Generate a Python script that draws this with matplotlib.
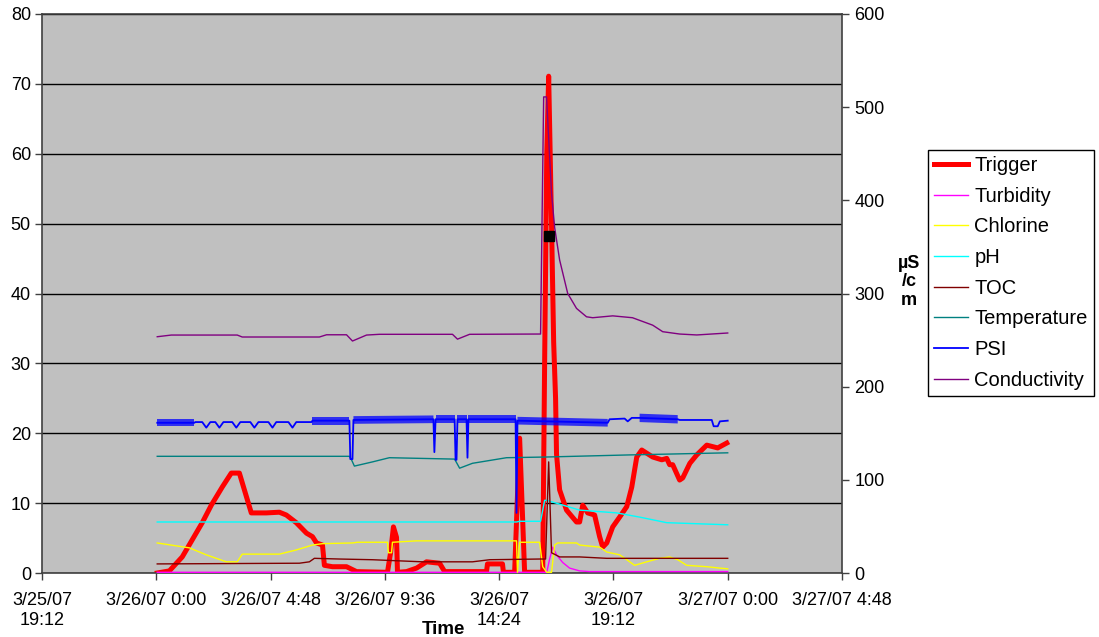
import matplotlib
matplotlib.use("Agg")
import matplotlib.pyplot as plt
import numpy as np

plt.rcParams['font.family'] = ['Liberation Sans', 'DejaVu Sans']

# ---- data (hours after 3/26/07 0:00) ----
tick_hours = [-4.8, 0, 4.8, 9.6, 14.4, 19.2, 24.0, 28.8]
tick_labels = ["3/25/07\n19:12", "3/26/07 0:00", "3/26/07 4:48", "3/26/07 9:36",
               "3/26/07\n14:24", "3/26/07\n19:12", "3/27/07 0:00", "3/27/07 4:48"]

trigger_h = [0.04, 0.55, 1.09, 1.93, 2.31, 2.77, 3.15, 3.49, 3.70, 3.99, 4.62, 5.17, 5.46, 5.88,
             6.31, 6.56, 6.73, 6.98, 7.06, 7.40, 7.99, 8.41, 9.71, 9.84, 9.96, 10.09, 10.13, 10.51,
             10.93, 11.35, 11.90, 12.11, 13.87, 13.91, 14.54, 14.58, 15.05, 15.26, 15.47, 16.23,
             16.31, 16.40, 16.48, 16.60, 16.69, 16.77, 16.81, 16.94, 17.23, 17.65, 17.78, 17.91,
             18.12, 18.41, 18.62, 18.75, 18.92, 19.17, 19.46, 19.76, 19.97, 20.18, 20.39, 20.85,
             21.23, 21.44, 21.56, 21.69, 21.98, 22.11, 22.41, 22.70, 23.12, 23.58, 23.96]
trigger_v = [0.0, 0.3, 2.3, 7.2, 9.7, 12.3, 14.3, 14.3, 11.9, 8.6, 8.6, 8.7, 8.3, 7.2,
             5.7, 5.2, 4.3, 4.0, 1.1, 0.9, 0.9, 0.2, 0.1, 2.9, 6.6, 5.1, 0.1, 0.2,
             0.7, 1.6, 1.4, 0.2, 0.2, 1.3, 1.3, 0.1, 0.1, 19.3, 0.1, 0.1,
             30.0, 60.0, 71.1, 50.0, 33.0, 25.0, 17.0, 11.9, 9.0, 7.3, 7.3, 9.7,
             8.6, 8.3, 5.2, 3.7, 4.3, 6.6, 8.0, 9.5, 12.3, 16.6, 17.6, 16.6,
             16.2, 16.4, 15.5, 15.5, 13.3, 13.6, 15.7, 16.9, 18.3, 17.9, 18.6]
marker_h = [16.48]
marker_v = [48.2]

turb_h = [0.04, 16.40, 16.52, 16.65, 16.81, 17.07, 17.36, 17.78, 18.2, 24.0]
turb_v = [0.1, 0.1, 2.0, 3.7, 2.6, 1.5, 0.7, 0.3, 0.2, 0.2]

chl_h = [0.04, 1.39, 2.10, 2.94, 3.40, 3.61, 5.17, 5.88, 6.56, 6.98, 8.24, 8.45, 9.71, 9.75,
         9.88, 9.92, 10.93, 15.13, 15.17, 15.26, 16.10, 16.23, 16.40, 16.60, 16.73, 16.86,
         17.65, 17.78, 18.62, 18.92, 19.46, 19.76, 20.09, 20.60, 21.14, 21.56, 21.90, 22.28,
         23.12, 23.67, 24.0]
chl_v = [4.3, 3.6, 2.6, 1.6, 1.6, 2.7, 2.7, 3.3, 4.0, 4.2, 4.3, 4.4, 4.4, 2.9,
         2.9, 4.4, 4.6, 4.6, 0.1, 4.4, 4.4, 0.9, 0.1, 0.1, 4.0, 4.3,
         4.3, 4.0, 3.7, 3.0, 2.6, 1.9, 1.1, 1.6, 2.1, 2.3, 1.9, 1.1,
         0.9, 0.7, 0.6]

ph_h = [0.04, 15.13, 15.26, 16.14, 16.31, 16.40, 17.78, 19.34, 20.30, 21.44, 24.0]
ph_v = [7.3, 7.3, 7.4, 7.4, 10.4, 10.4, 9.0, 8.6, 8.0, 7.2, 6.9]

toc_h = [0.04, 6.01, 6.43, 6.64, 7.69, 9.08, 11.18, 13.28, 14.0, 16.10, 16.35, 16.48, 16.60,
         16.94, 17.78, 18.92, 24.0]
toc_v = [1.3, 1.4, 1.6, 2.1, 2.0, 1.9, 1.6, 1.6, 1.9, 2.0, 2.0, 15.9, 2.9,
         2.3, 2.3, 2.1, 2.1]

temp_h = [0.04, 8.11, 8.20, 8.32, 9.08, 9.79, 12.53, 12.74, 13.28, 14.71, 16.39, 19.88, 24.0]
temp_v = [16.7, 16.7, 16.2, 15.3, 15.9, 16.5, 16.3, 15.0, 15.7, 16.5, 16.6, 16.9, 17.2]

psi_h = [0.04, 1.60, 1.64, 1.93, 2.10, 2.27, 2.48, 2.65, 2.82, 3.19, 3.36, 3.53, 3.95, 4.12,
         4.29, 4.71, 4.88, 5.04, 5.55, 5.72, 5.88, 6.52, 6.56, 8.11, 8.15, 8.24, 8.28, 11.64,
         11.68, 11.73, 12.53, 12.57, 12.61, 12.65, 13.03, 13.07, 13.11, 15.09, 15.13, 15.17,
         18.96, 19.04, 19.67, 19.80, 19.97, 20.30, 21.90, 21.98, 23.33, 23.41, 23.58, 23.67, 24.0]
psi_v = [21.5, 21.5, 21.6, 21.6, 20.8, 21.6, 21.6, 20.8, 21.6, 21.6, 20.8, 21.6, 21.6, 20.8,
         21.6, 21.6, 20.8, 21.6, 21.6, 20.8, 21.6, 21.6, 21.8, 21.8, 16.3, 16.3, 21.9, 22.0,
         17.3, 22.0, 22.0, 16.2, 16.2, 22.0, 22.0, 16.5, 22.0, 22.0, 8.6, 21.8,
         21.5, 22.0, 22.1, 21.7, 22.2, 22.2, 22.0, 21.9, 21.9, 21.0, 21.0, 21.7, 21.8]
psi_noise = [0.5, 0.5, 0, 0, 0, 0, 0, 0, 0, 0, 0, 0, 0, 0,
             0, 0, 0, 0, 0, 0, 0, 0, 0.55, 0.55, 0, 0, 0.55, 0.55,
             0, 0.55, 0.55, 0, 0, 0.55, 0.55, 0, 0.55, 0.55, 0, 0.55,
             0.55, 0, 0, 0, 0, 0.6, 0.6, 0, 0, 0, 0, 0, 0]

cond_h = [0.04, 0.63, 3.40, 3.61, 6.85, 7.15, 7.99, 8.24, 8.83, 9.37, 12.44, 12.65, 13.16,
          16.14, 16.27, 16.39, 16.60, 16.73, 16.94, 17.28, 17.65, 18.07, 18.33, 19.17, 20.0,
          20.85, 21.27, 21.98, 22.70, 24.0]
cond_v = [253.6, 255.4, 255.4, 253.3, 253.3, 255.7, 255.7, 249, 255.4, 256.2, 256.2, 251, 256.2,
          256.5, 511, 511, 408, 371, 336, 300, 284, 275, 274, 276, 274,
          266, 259, 256.5, 255.5, 257.6]

# ---- figure ----
W, H = 1099, 637
fig = plt.figure(figsize=(W / 100, H / 100), dpi=100)
ax = fig.add_axes([42 / W, 1 - 573 / H, 800 / W, 559 / H])
ax.set_facecolor('#C0C0C0')
ax.set_xlim(-4.8, 28.8)
ax.set_ylim(0, 80)
ax.set_yticks(range(0, 81, 10))
ax.yaxis.grid(True, color='black', lw=1.0)
ax.set_axisbelow(True)
ax.set_xticks(tick_hours)
ax.set_xticklabels(tick_labels)
ax.tick_params(axis='both', direction='out', length=5, width=1, color='#404040',
               labelsize=13, pad=3)
ax.tick_params(axis='x', pad=9)

for s in ax.spines.values():
    s.set_color('#404040')
    s.set_linewidth(1.2)

lw = 1.0
h_trig, = ax.plot(trigger_h, trigger_v, color='#FF0000', lw=3.6, zorder=2, label='Trigger')
h_turb, = ax.plot(turb_h, turb_v, color='#FF00FF', lw=lw, zorder=3, label='Turbidity')
h_chl, = ax.plot(chl_h, chl_v, color='#FFFF00', lw=lw, zorder=3, label='Chlorine')
h_ph, = ax.plot(ph_h, ph_v, color='#00FFFF', lw=lw, zorder=3, label='pH')
h_toc, = ax.plot(toc_h, toc_v, color='#800000', lw=lw, zorder=3, label='TOC')
h_temp, = ax.plot(temp_h, temp_v, color='#008080', lw=lw, zorder=3, label='Temperature')
psi_h_a = np.array(psi_h); psi_v_a = np.array(psi_v); psi_n_a = np.array(psi_noise)
ax.fill_between(psi_h_a, psi_v_a - psi_n_a, psi_v_a + psi_n_a, where=psi_n_a > 0,
                color='#0000FF', alpha=0.75, lw=0, zorder=3)
h_psi, = ax.plot(psi_h, psi_v, color='#0000FF', lw=1.3, zorder=3, label='PSI')

ax2 = ax.twinx()
ax2.set_ylim(0, 600)
ax2.set_yticks(range(0, 601, 100))
ax2.tick_params(axis='y', direction='out', length=5, width=1, color='#404040',
                labelsize=13, pad=4)
for s in ax2.spines.values():
    s.set_visible(False)
h_cond, = ax2.plot(cond_h, cond_v, color='#800080', lw=lw, zorder=4, label='Conductivity')
ax2.plot(marker_h, [v * 7.5 for v in marker_v], 's', color='black', ms=7, zorder=5)

fig.text(443 / W, 1 - 629 / H, 'Time', ha='center', va='center', fontsize=13.5, fontweight='bold')
fig.text(909 / W, 1 - 282 / H, 'µS\n/c\nm', ha='center', va='center', fontsize=13,
         fontweight='bold', linespacing=1.1)

handles = [h_trig, h_turb, h_chl, h_ph, h_toc, h_temp, h_psi, h_cond]
leg = fig.legend(handles=handles, loc='upper left', bbox_to_anchor=(928 / W, 1 - 150 / H),
                 frameon=True, fancybox=False, framealpha=1, edgecolor='black',
                 fontsize=14.5, handlelength=1.7, handletextpad=0.3, labelspacing=0.58,
                 borderpad=0.3, borderaxespad=0)
leg.get_frame().set_linewidth(1.0)

fig.savefig('out.png', dpi=100)
